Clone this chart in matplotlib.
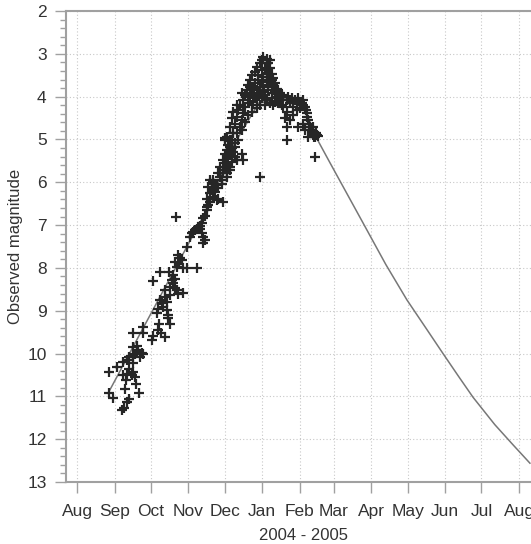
import numpy as np
import pandas as pd
import matplotlib
matplotlib.use("Agg")
import matplotlib.pyplot as plt

plt.rcParams["font.family"] = ["Liberation Sans", "DejaVu Sans"]

# days counted from 2004-08-01, observed magnitude
early_days = [37.4, 39.1, 41.0, 43.2, 26.7, 29.4, 26.4, 33.3, 39.6, 48.7, 51.5, 38.2, 41.0, 43.2,
              46.0, 47.9, 49.3, 46.0, 43.2, 46.5, 41.0, 45.1, 47.9, 38.2, 40.4, 46.5, 49.3, 50.6,
              53.4, 54.8, 52.0, 46.5, 54.2, 54.8, 61.6, 63.0, 67.2, 69.1, 72.6, 68.0, 68.5, 69.9,
              71.3, 74.0, 75.4, 72.6, 76.8, 74.0, 67.2, 65.8, 75.4, 76.8, 63.0, 68.5, 76.2, 78.1,
              79.5, 80.9, 82.3, 83.7, 87.8, 79.5, 80.9, 76.8, 72.6, 83.7, 85.0, 84.5, 87.8, 90.5,
              98.8, 82.3, 80.9, 86.4, 90.5, 93.3, 94.7, 96.0, 97.4, 98.8, 100.2, 101.5, 102.9,
              104.3, 105.7, 104.3, 101.5, 102.9, 104.3, 105.7, 107.0, 108.4, 109.8, 81.7]
early_mag = [11.32, 11.28, 11.13, 11.07, 10.92, 11.03, 10.43, 10.31, 10.83, 10.71, 10.92, 10.19, 10.15, 10.08,
             10.06, 10.00, 9.96, 10.23, 10.35, 10.43, 10.47, 10.51, 10.54, 10.51, 10.62, 9.84, 9.83, 9.92,
             9.98, 10.02, 10.08, 9.52, 9.38, 9.53, 9.69, 9.59, 9.44, 9.52, 9.61, 9.30, 8.75, 8.83,
             8.91, 8.99, 9.10, 8.68, 8.64, 8.79, 8.95, 9.06, 9.18, 9.31, 8.31, 8.09, 8.09, 8.29,
             8.36, 8.48, 8.52, 8.60, 8.58, 8.17, 8.25, 8.44, 8.52, 7.70, 7.78, 7.90, 8.01, 8.01,
             8.01, 7.97, 7.86, 7.82, 7.51, 7.27, 7.19, 7.16, 7.12, 7.08, 7.04, 7.02, 7.19,
             7.27, 7.35, 7.41, 7.10, 6.95, 6.84, 6.79, 6.65, 6.53, 6.45, 6.81]

rise_days = [123.6, 126.3, 125.0, 127.7, 129.1, 126.3, 123.6, 122.2, 125.0, 127.7, 130.5, 130.5, 128.5,
             122.2, 120.8, 123.6, 126.3, 109.8, 112.6, 115.3, 108.4, 111.2, 113.9, 116.7, 119.5, 118.1,
             109.8, 112.6, 107.1, 115.3, 120.8, 107.1, 113.9, 111.2, 116.7, 112.6,
             120.8, 122.2, 123.6, 120.8, 125.0, 123.6, 126.3, 122.2, 127.7, 129.1, 126.3, 130.5, 127.7,
             131.8, 129.1, 133.2, 134.6, 131.8, 137.3, 138.7, 136.0, 140.1, 141.5, 142.8, 144.2, 147.0,
             148.3, 151.1, 131.8, 134.6, 136.0, 137.3, 138.7, 141.5, 142.8, 145.6, 148.3, 151.1,
             144.2, 141.5, 138.7, 136.0, 133.2, 130.5, 127.7, 126.3, 123.6, 119.5, 118.1, 116.7,
             137.3, 131.8, 136.0, 122.2, 151.1]
rise_mag = [4.94, 5.01, 5.13, 5.21, 5.29, 5.36, 5.44, 5.56, 5.64, 5.52, 5.40, 5.09, 4.86,
            4.97, 5.71, 5.79, 5.71, 5.95, 5.99, 6.07, 6.10, 6.18, 6.22, 6.14, 6.03, 5.87,
            6.26, 6.34, 6.38, 6.42, 6.45, 6.57, 6.03, 6.11, 6.38, 5.95,
            5.79, 5.64, 5.56, 5.48, 5.40, 5.25, 5.17, 5.02, 5.02, 4.86, 4.70, 4.63, 4.51,
            4.47, 4.35, 4.31, 4.20, 4.20, 4.08, 3.96, 3.92, 3.85, 3.73, 3.61, 3.50, 3.42,
            3.30, 3.22, 4.86, 4.70, 4.55, 4.39, 4.24, 4.16, 4.00, 3.92, 3.85, 3.77,
            4.35, 4.43, 4.59, 4.78, 5.02, 5.17, 5.40, 5.64, 5.87, 5.95, 5.64, 5.79,
            5.48, 5.48, 5.33, 5.33, 5.87]

peak_days = [153.8, 156.6, 158.0, 159.3, 160.7, 162.1, 163.5, 164.9, 152.5, 149.7, 153.8, 156.6,
             155.2, 152.5, 159.3, 162.1, 160.7, 158.0, 155.2, 152.5, 148.3, 145.6, 164.9, 167.6,
             163.5, 159.3, 155.2, 151.1, 148.3, 142.8, 147.0, 149.7, 156.6, 160.7, 163.5, 166.2,
             169.0, 158.0, 153.8, 151.1, 147.0, 144.2, 156.6, 160.7, 162.1, 166.2, 169.0, 156.6,
             159.3, 152.5, 158.0, 150.4, 154.5, 157.3, 161.4, 165.5, 146.3, 143.5]
peak_mag = [3.07, 3.11, 3.22, 3.34, 3.46, 3.57, 3.69, 3.81, 3.65, 3.61, 3.54, 3.46,
            3.34, 3.38, 3.61, 3.77, 3.92, 3.85, 3.96, 4.04, 4.04, 4.12, 4.00, 4.08,
            4.12, 4.16, 4.20, 4.20, 4.27, 3.77, 3.69, 3.50, 3.61, 3.73, 3.88, 3.85,
            3.96, 3.73, 3.77, 3.92, 4.00, 4.20, 4.08, 4.04, 4.20, 4.16, 4.20, 3.22,
            3.15, 3.15, 3.38, 3.98, 3.90, 3.55, 3.62, 3.95, 3.80, 3.95]

fall_days = [167.6, 170.4, 173.1, 175.9, 180.0, 184.1, 186.9, 188.2, 189.6, 191.0, 192.4, 193.7,
             195.1, 197.9, 196.5, 199.3, 175.9, 178.6, 181.4, 185.5, 177.2, 182.7, 174.5, 186.9,
             178.6, 181.4, 189.1, 190.2, 191.8, 192.9, 194.6, 195.7, 197.3, 173.1, 175.9, 173.1,
             182.7, 178.6, 184.1, 170.4, 173.1, 191.0, 195.1, 196.5, 171.7, 186.9, 188.2]
fall_mag = [3.92, 4.00, 4.08, 4.08, 4.08, 4.12, 4.08, 4.24, 4.39, 4.55, 4.70, 4.82,
            4.90, 4.90, 4.94, 4.92, 4.16, 4.12, 4.16, 4.16, 4.04, 4.04, 4.00, 4.20,
            4.24, 4.31, 4.31, 4.47, 4.63, 4.77, 4.86, 4.95, 4.86, 4.35, 4.55, 4.70,
            4.70, 4.43, 4.27, 4.24, 5.02, 4.94, 4.70, 5.40, 4.51, 4.63, 4.78]

# fitted light curve
curve_days = [25.6, 107.0, 130.0, 150.0, 170.0, 186.0, 196.5, 209.0, 236.2, 255.0, 272.5,
              288.0, 302.0, 315.0, 327.0, 345.0, 360.0, 374.0]
curve_mag = [10.93, 6.65, 5.10, 4.15, 4.05, 4.12, 4.90, 5.55, 6.95, 7.92, 8.75,
             9.40, 9.99, 10.53, 11.02, 11.66, 12.13, 12.56]

month_labels = ["Aug", "Sep", "Oct", "Nov", "Dec", "Jan", "Feb", "Mar",
                "Apr", "May", "Jun", "Jul", "Aug"]

start = pd.Timestamp("2004-08-01")


def to_dates(days):
    return start + pd.to_timedelta(np.array(days), unit="D")


obs_days = early_days + rise_days + peak_days + fall_days
obs_mag = early_mag + rise_mag + peak_mag + fall_mag

fig = plt.figure(figsize=(5.31, 5.44), dpi=100)
ax = fig.add_axes([66 / 531, 1 - 482 / 544, 1 - 66 / 531, (482 - 11) / 544])

ax.plot(to_dates(curve_days), curve_mag, color="#777777", lw=1.1, zorder=2)
ax.plot(to_dates(obs_days), obs_mag, linestyle="none", marker="+",
        ms=6.5, mew=1.6, color="#262626", zorder=3)

ax.set_ylim(13, 2)
ax.set_yticks(range(2, 14))
ax.set_yticks(np.arange(2, 13.01, 0.2), minor=True)
ax.set_xlim(start - pd.Timedelta(days=9.1), start + pd.Timedelta(days=374.9))

ticks = pd.date_range("2004-08-01", "2005-08-01", freq="MS")
ax.set_xticks(ticks)
ax.set_xticklabels(month_labels)

ax.grid(True, which="major", color="#c8c8c8", lw=0.8, linestyle=(0, (1, 2)))

for side in ["left", "bottom", "top"]:
    ax.spines[side].set_color("#a0a0a0")
    ax.spines[side].set_linewidth(1.5)
ax.spines["right"].set_visible(False)

ax.tick_params(axis="both", which="major", direction="out", length=8, width=1,
               color="#a0a0a0", labelsize=12.5, labelcolor="#333333")
ax.tick_params(axis="y", which="minor", direction="out", length=4, width=1, color="#a0a0a0")
ax.tick_params(axis="x", pad=8)
ax.tick_params(axis="y", pad=6)

ax.set_ylabel("Observed magnitude", fontsize=12, color="#333333", labelpad=3)
ax.set_xlabel("2004 - 2005", fontsize=12, color="#333333", labelpad=1)
ax.xaxis.set_label_coords(0.51, -0.098)

fig.savefig("out.png", dpi=100)
